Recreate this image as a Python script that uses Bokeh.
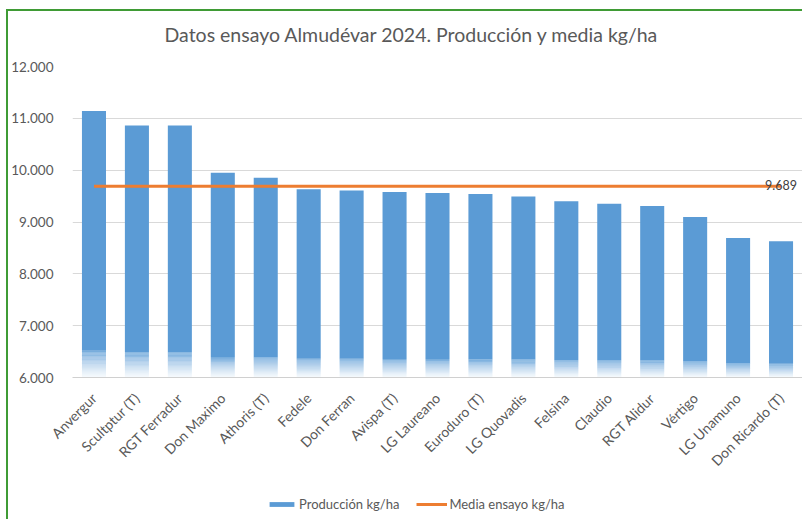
import numpy as np
from bokeh.plotting import figure
from bokeh.layouts import column
from bokeh.models import FactorRange, FixedTicker, Legend, LegendItem, Range1d, Label
from bokeh.core.properties import value
from bokeh.embed import file_html
from bokeh.resources import INLINE

categories = ["Anvergur", "Scultptur (T)", "RGT Ferradur", "Don Maximo", "Athoris (T)",
              "Fedele", "Don Ferran", "Avispa (T)", "LG Laureano", "Euroduro (T)",
              "LG Quovadis", "Felsina", "Claudio", "RGT Alidur", "Vértigo",
              "LG Unamuno", "Don Ricardo (T)"]
produccion = [11140, 10860, 10860, 9950, 9855, 9630, 9610, 9577, 9558, 9539,
              9494, 9400, 9350, 9310, 9095, 8690, 8630]
media = 9689
media_label = "9.689"
y_ticks = [6000, 7000, 8000, 9000, 10000, 11000, 12000]
y_tick_labels = ["6.000", "7.000", "8.000", "9.000", "10.000", "11.000", "12.000"]
title_text = "Datos ensayo Almudévar 2024. Producción y media kg/ha"
legend_labels = ["Producción kg/ha", "Media ensayo kg/ha"]

FONT = "Lato"
TXT = "#595959"
BLUE = "#5B9BD5"
ORANGE = "#ED7D31"
GREEN = "#3f9b35"
base = y_ticks[0]


def strip(height):
    f = figure(width=794, height=height, output_backend="svg", toolbar_location=None,
               x_range=Range1d(0, 1), y_range=Range1d(0, 1),
               x_axis_type=None, y_axis_type=None,
               min_border_left=0, min_border_right=0, min_border_top=0, min_border_bottom=0)
    f.outline_line_color = None
    f.xgrid.grid_line_color = None
    f.ygrid.grid_line_color = None
    return f


# title strip
t = strip(45)
t.add_layout(Label(x=92, y=22, x_units="screen", y_units="screen", text=title_text,
                   text_font=FONT, text_font_size="19.5px", text_color=TXT,
                   text_baseline="middle", text_align="left"))

# main chart
p = figure(x_range=FactorRange(*categories, range_padding=0),
           y_range=(y_ticks[0], y_ticks[-1]),
           width=794, height=433, output_backend="svg", toolbar_location=None,
           min_border_left=57, min_border_right=0, min_border_top=10, min_border_bottom=112)
p.outline_line_color = None
p.background_fill_color = "white"
p.border_fill_color = "white"

vals = np.array(produccion, dtype=float)
fade_top = base + 0.10 * (vals - base)
main = p.vbar(x=categories, top=vals, bottom=fade_top, width=0.56,
              fill_color=BLUE, line_color=None)
n = 20
for k in range(n):
    b = base + (fade_top - base) * k / n
    tp = base + (fade_top - base) * (k + 1) / n
    alpha = 0.05 + 0.8 * ((k + 0.5) / n) ** 1.3
    p.vbar(x=categories, top=tp, bottom=b, width=0.56, fill_color=BLUE,
           fill_alpha=alpha, line_color=None)

line = p.line(x=categories, y=[media] * len(categories), line_color=ORANGE, line_width=3)
p.text(x=[categories[-1]], y=[media], text=[media_label], text_align="center",
       text_baseline="middle", text_font=value(FONT), text_font_size="12.5px",
       text_color="#404040", y_offset=-1)

p.xgrid.grid_line_color = None
p.ygrid.grid_line_color = "#d9d9d9"
p.ygrid.grid_line_width = 1
p.yaxis.ticker = FixedTicker(ticks=y_ticks)
p.yaxis.major_label_overrides = {tk: lb for tk, lb in zip(y_ticks, y_tick_labels)}
p.yaxis.axis_line_color = None
p.yaxis.major_tick_line_color = None
p.yaxis.minor_tick_line_color = None
p.yaxis.major_label_text_font = FONT
p.yaxis.major_label_text_font_size = "13.5px"
p.yaxis.major_label_text_color = TXT
p.yaxis.major_label_standoff = 13

p.xaxis.axis_line_color = "#d0d0d0"
p.xaxis.major_tick_line_color = None
p.xaxis.minor_tick_line_color = None
p.xaxis.major_label_orientation = np.pi / 4
p.xaxis.major_label_text_font = FONT
p.xaxis.major_label_text_font_size = "14px"
p.xaxis.major_label_text_color = TXT
p.xaxis.major_label_standoff = 12

# legend strip below the chart (sample glyphs sit outside the strip's visible range)
q = strip(30)
leg_bar = q.vbar(x=[-5], top=[-5], bottom=[-6], width=0.5, fill_color=BLUE, line_color=None)
leg_line = q.line(x=[-6, -5], y=[-5, -5], line_color=ORANGE, line_width=3)
legend = Legend(items=[LegendItem(label=legend_labels[0], renderers=[leg_bar]),
                       LegendItem(label=legend_labels[1], renderers=[leg_line])],
                orientation="horizontal", location=(194, 7),
                glyph_width=31, glyph_height=6, label_height=12,
                label_standoff=2, spacing=17, padding=0, margin=0,
                label_text_font=FONT, label_text_font_size="13px",
                label_text_color=TXT, border_line_color=None,
                background_fill_alpha=0)
q.add_layout(legend, "center")

layout = column(t, p, q, spacing=0)
layout.styles = {"border-left": f"2px solid {GREEN}", "border-top": f"2px solid {GREEN}",
                 "margin-left": "6px", "margin-top": "9px"}

open("out.html", "w").write(file_html(layout, INLINE))
